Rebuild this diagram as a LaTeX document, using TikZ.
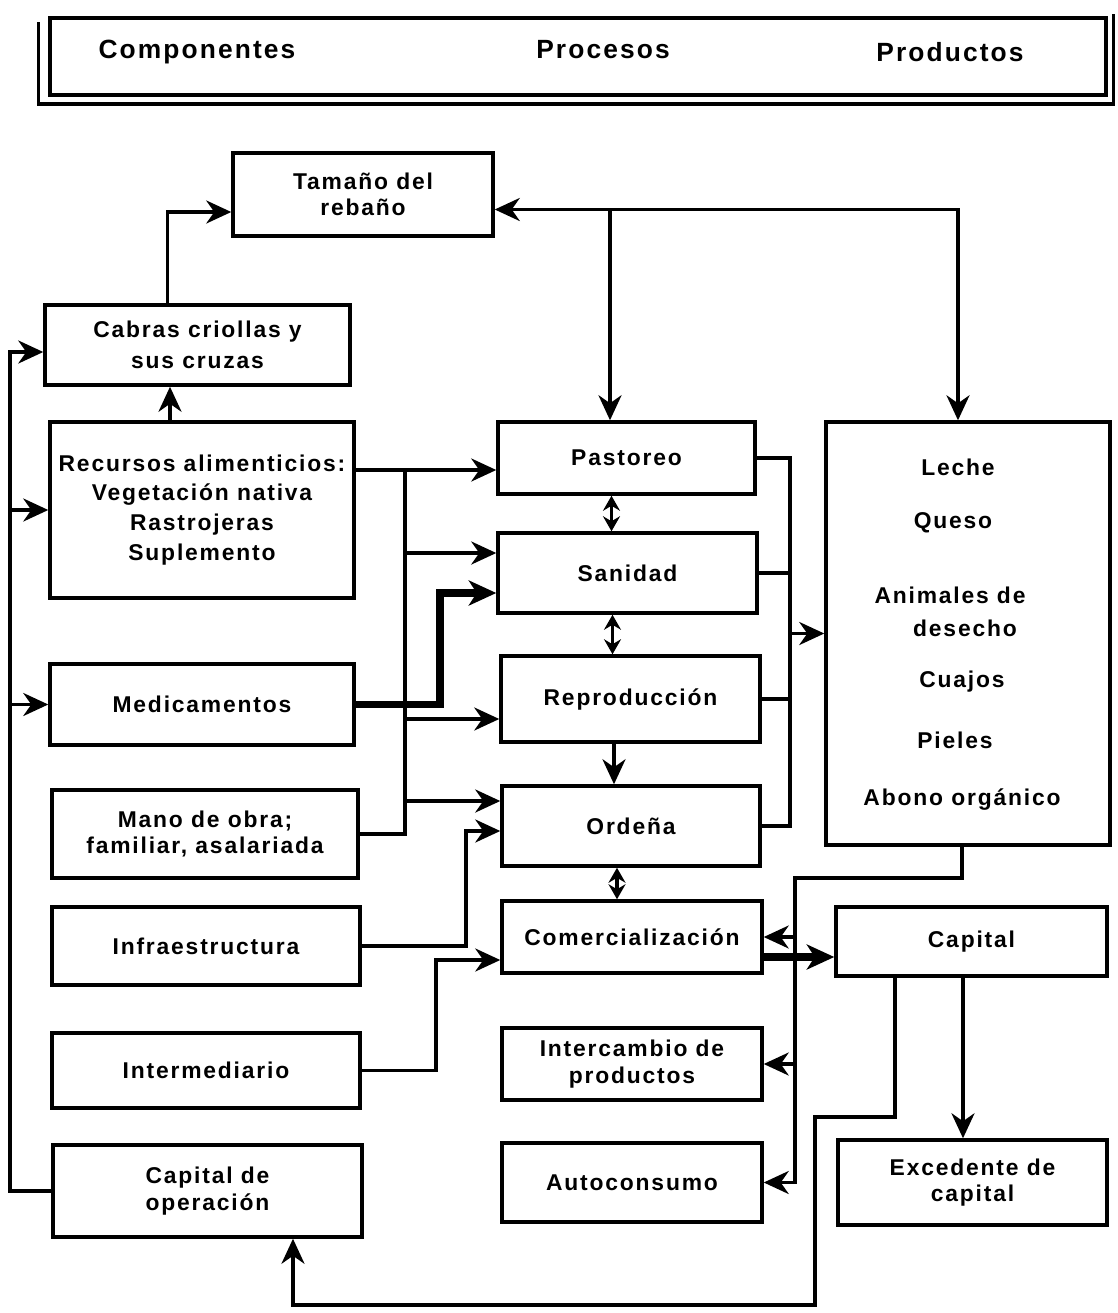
\documentclass[tikz,border=0pt]{standalone}
\usepackage{fontspec}
\setmainfont{Liberation Sans}
\newfontfamily\boxfont{Liberation Sans}[LetterSpace=8]
\newfontfamily\headfont{Liberation Sans}[LetterSpace=8]
\usetikzlibrary{arrows.meta}

\begin{document}
\begin{tikzpicture}[x=0.02cm, y=-0.02cm,
  box/.style={draw, line width=2pt, align=center, inner sep=2pt, font={\boxfont\bfseries\fontsize{13}{15}\selectfont}},
  txt/.style={font={\boxfont\bfseries\fontsize{13}{15}\selectfont}},
  headtxt/.style={font={\headfont\bfseries\fontsize{15}{17}\selectfont}},
  wire/.style={line width=2pt},
  arr/.style={wire, -{Stealth[length=5mm, width=4.6mm, inset=1.6mm]}},
  dbl/.style={wire, {Stealth[length=3mm, width=3.4mm, inset=1mm]}-{Stealth[length=3mm, width=3.4mm, inset=1mm]}},
  thk/.style={line width=4.5pt, -{Stealth[length=5.5mm, width=5mm, inset=1.6mm]}}]
  \useasboundingbox (0,0) rectangle (1117,1313);

  % heading
  \node[box, minimum width=21.12cm, minimum height=1.54cm] (head) at (578,56.5) {};
  \draw[wire] ([xshift=-2mm,yshift=-1.2mm]head.north west) -- ([xshift=-2mm,yshift=-1.4mm]head.south west)
    -- ([xshift=1.2mm,yshift=-1.4mm]head.south east) -- ([xshift=1.2mm,yshift=0.4mm]head.north east);
  \node[headtxt] (hcomp) at (197,52) {Componentes};
  \node[headtxt] (hproc) at (603,50) {Procesos};
  \node[headtxt] (hprod) at (950,52) {Productos};

  % componentes
  \node[box, minimum width=5.2cm, minimum height=1.66cm] (tam) at (363,194.5) {Tamaño del\\rebaño};
  \node[box, minimum width=6.1cm, minimum height=1.6cm] (cab) at (197.5,345) {Cabras criollas y\\[3pt]sus cruzas};
  \node[box, minimum width=6.08cm, minimum height=3.52cm] (rec) at (202,510) {Recursos alimenticios:\\[2pt]Vegetación nativa\\[2pt]Rastrojeras\\[2pt]Suplemento};
  \node[box, minimum width=6.08cm, minimum height=1.62cm] (med) at (202,704.5) {Medicamentos};
  \node[box, minimum width=6.12cm, minimum height=1.76cm] (mano) at (205,834) {Mano de obra;\\familiar, asalariada};
  \node[box, minimum width=6.16cm, minimum height=1.56cm] (inf) at (206,946) {Infraestructura};
  \node[box, minimum width=6.16cm, minimum height=1.5cm] (inter) at (206,1070.5) {Intermediario};
  \node[box, minimum width=6.18cm, minimum height=1.84cm] (capop) at (207.5,1191) {Capital de\\operación};

  % procesos
  \node[box, minimum width=5.14cm, minimum height=1.44cm] (pas) at (626.5,458) {Pastoreo};
  \node[box, minimum width=5.18cm, minimum height=1.6cm] (san) at (627.5,573) {Sanidad};
  \node[box, minimum width=5.18cm, minimum height=1.72cm] (rep) at (630.5,699) {Reproducción};
  \node[box, minimum width=5.16cm, minimum height=1.6cm] (ord) at (631,826) {Ordeña};
  \node[box, minimum width=5.2cm, minimum height=1.44cm] (com) at (632,937) {Comercialización};
  \node[box, minimum width=5.2cm, minimum height=1.44cm] (icam) at (632,1064) {Intercambio de\\productos};
  \node[box, minimum width=5.2cm, minimum height=1.58cm] (auto) at (632,1182.5) {Autoconsumo};

  % productos
  \node[box, minimum width=5.68cm, minimum height=8.46cm] (prod) at (968,633.5) {};
  \node[txt] (leche) at (958,467) {Leche};
  \node[txt] (queso) at (953,523) {Queso};
  \node[txt] (anim) at (950,595) {Animales de};
  \node[txt] (dese) at (965,628) {desecho};
  \node[txt] (cuaj) at (962,682) {Cuajos};
  \node[txt] (piel) at (955,740) {Pieles};
  \node[txt] (abono) at (962,800) {Abono orgánico};
  \node[box, minimum width=5.42cm, minimum height=1.38cm] (capital) at (971.5,941.5) {Capital};
  \node[box, minimum width=5.38cm, minimum height=1.7cm] (exc) at (972.5,1182.5) {Excedente de\\capital};

  % buses and entry points
  \coordinate (lbus) at (10,0);
  \coordinate (cbus) at (405,0);
  \coordinate (mbus) at (440,0);
  \coordinate (tbus) at (436,0);
  \coordinate (ibus) at (466,0);
  \coordinate (rbus) at (790,0);
  \coordinate (obus) at (795,878);
  \coordinate (ret1) at (815,1117);
  \coordinate (ret2) at (815,1305);
  \coordinate (top) at ([yshift=-3mm]tam.east);
  \coordinate (cabin) at ([yshift=-1.4mm]cab.west);
  \coordinate (pasin) at ([yshift=-2.4mm]pas.west);
  \coordinate (sanhi) at ([yshift=4mm]san.west);
  \coordinate (sanlo) at ([yshift=-4mm]san.west);
  \coordinate (repin) at ([yshift=-4mm]rep.west);
  \coordinate (ordhi) at ([yshift=5mm]ord.west);
  \coordinate (ordlo) at ([yshift=-1mm]ord.west);
  \coordinate (comin) at ([yshift=-4.6mm]com.west);

  % left side
  \draw[arr] ([xshift=-6mm]cab.north) |- ([yshift=-3.5mm]tam.west);
  \draw[arr] ([xshift=-6.4mm]rec.north) -- ([xshift=-6.4mm]rec.north |- cab.south);
  \draw[arr] (capop.west) -- (lbus |- capop.west) -- (lbus |- cabin) -- (cabin);
  \draw[arr] (lbus |- rec.west) -- (rec.west);
  \draw[arr] (lbus |- med.west) -- (med.west);

  % top feedback
  \draw[arr] ([xshift=-3.3mm]pas.north |- top) -- (top);
  \draw[arr] ([xshift=-3.3mm]pas.north |- top) -- ([xshift=-3.3mm]pas.north);
  \draw[arr] ([xshift=-3.3mm]pas.north |- top) -- ([xshift=-2mm]prod.north |- top) -- ([xshift=-2mm]prod.north);

  % componentes to procesos
  \draw[arr] (rec.east |- pasin) -- (pasin);
  \draw[wire] (mano.east) -| (cbus |- pasin);
  \draw[arr] (cbus |- sanhi) -- (sanhi);
  \draw[arr] (cbus |- repin) -- (repin);
  \draw[arr] (cbus |- ordhi) -- (ordhi);
  \draw[thk] (med.east) -| (mbus |- sanlo) -- (sanlo);
  \draw[arr] (inf.east) -| (ibus |- ordlo) -- (ordlo);
  \draw[arr] (inter.east) -| (tbus |- comin) -- (comin);

  % between procesos
  \draw[dbl] ([xshift=-3mm]pas.south) -- ([xshift=-3mm]pas.south |- san.north);
  \draw[dbl] ([xshift=-3mm]san.south) -- ([xshift=-3mm]san.south |- rep.north);
  \draw[arr] ([xshift=-3.3mm]rep.south) -- ([xshift=-3.3mm]rep.south |- ord.north);
  \draw[dbl] ([xshift=-2.8mm]ord.south) -- ([xshift=-2.8mm]ord.south |- com.north);

  % procesos to productos
  \draw[wire] (pas.east) -- (rbus |- pas.east) -- (rbus |- ord.east) -- (ord.east);
  \draw[wire] (san.east) -- (rbus |- san.east);
  \draw[wire] (rep.east) -- (rbus |- rep.east);
  \draw[arr] (rbus |- prod.west) -- (prod.west);

  % productos out
  \draw[arr] ([xshift=-1.2mm]prod.south) |- (obus) -- (obus |- auto.east) -- (auto.east);
  \draw[arr] (obus |- com.east) -- (com.east);
  \draw[arr] (obus |- icam.east) -- (icam.east);
  \draw[thk] ([yshift=-4mm]com.east) -- ([yshift=-4mm]com.east -| capital.west);
  \draw[arr] ([xshift=-1.7mm]capital.south) -- ([xshift=-1.7mm]capital.south |- exc.north);
  \draw[arr] ([xshift=-15.3mm]capital.south) |- (ret1) -- (ret2) -| ([xshift=17.1mm]capop.south);
\end{tikzpicture}
\end{document}
